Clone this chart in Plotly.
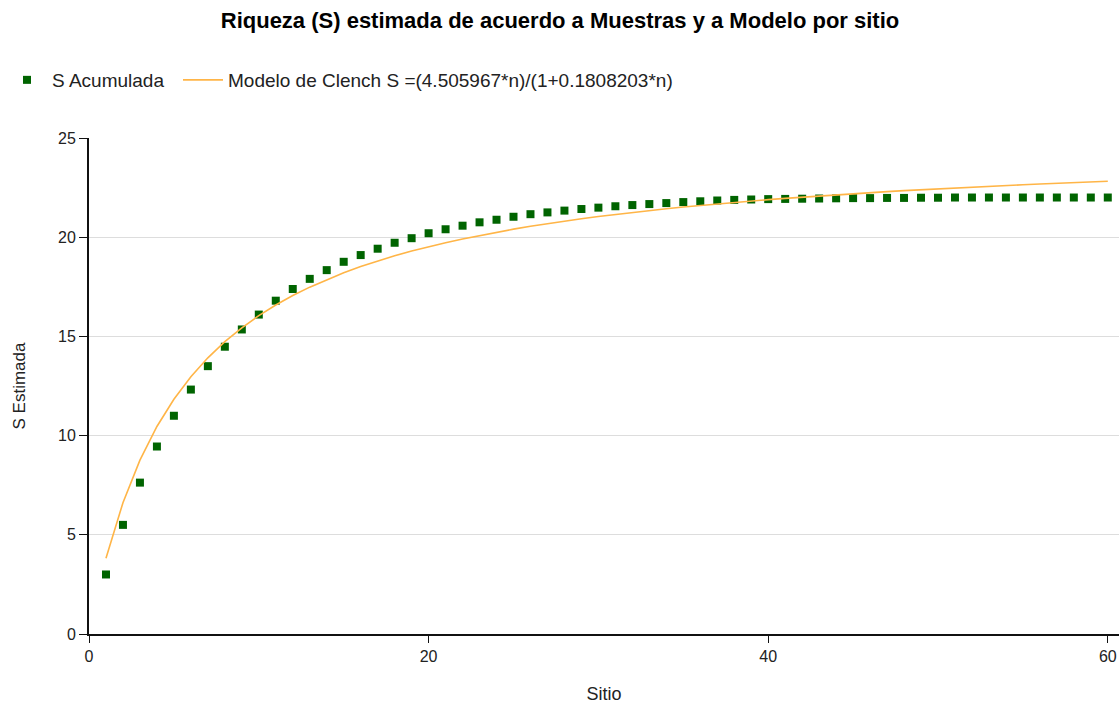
import plotly.graph_objects as go

# Observed cumulative richness per site
sitio = list(range(1, 61))
s_acumulada = [
    3.00, 5.50, 7.63, 9.45, 11.00, 12.32, 13.50, 14.48, 15.35, 16.10,
    16.80, 17.39, 17.90, 18.34, 18.76, 19.10, 19.42, 19.72, 19.95, 20.20,
    20.40, 20.58, 20.75, 20.88, 21.03, 21.16, 21.25, 21.34, 21.42, 21.49,
    21.56, 21.62, 21.67, 21.72, 21.77, 21.81, 21.85, 21.88, 21.90, 21.92,
    21.93, 21.94, 21.95, 21.96, 21.97, 21.97, 21.98, 21.98, 21.99, 21.99,
    22.00, 22.00, 22.00, 22.00, 22.00, 22.00, 22.00, 22.00, 22.00, 22.00,
]

# Clench model coefficients: S = a*n / (1 + b*n)
clench_a = 4.505967
clench_b = 0.1808203
s_modelo = [clench_a * n / (1 + clench_b * n) for n in sitio]

y_ticks = [0, 5, 10, 15, 20, 25]
x_ticks = [0, 20, 40, 60]

FONT = "Liberation Sans, Arial, sans-serif"

fig = go.Figure()
fig.add_trace(go.Scatter(
    x=sitio, y=s_acumulada, mode="markers", name="S Acumulada",
    marker=dict(symbol="square", size=8, color="#006400",
                line=dict(width=0)),
    legend="legend",
))
fig.add_trace(go.Scatter(
    x=sitio, y=s_modelo, mode="lines",
    name=f"Modelo de Clench S =({clench_a}*n)/(1+{clench_b}*n)",
    line=dict(color="#FFB547", width=1.6),
    legend="legend2",
))

legend_style = dict(
    orientation="h", xref="container", yref="container",
    xanchor="left", y=1 - 80 / 704, yanchor="middle",
    font=dict(size=19, color="#222222", family=FONT),
    itemwidth=40, bgcolor="rgba(0,0,0,0)",
)

fig.update_layout(
    width=1119, height=704,
    margin=dict(l=89, r=0, t=138, b=70),
    paper_bgcolor="white", plot_bgcolor="white",
    font=dict(family=FONT, color="#222222"),
    title=dict(
        text="<b>Riqueza (S) estimada de acuerdo a Muestras y a Modelo por sitio</b>",
        x=560 / 1119, xref="container", xanchor="center",
        y=1 - 20 / 704, yref="container", yanchor="middle",
        font=dict(size=22, color="#000000", family=FONT),
    ),
    legend=dict(x=2 / 1119, **legend_style),
    legend2=dict(x=178 / 1119, **legend_style),
    showlegend=True,
)

fig.update_xaxes(
    range=[0, 60.66], tickvals=x_ticks, ticktext=[str(v) for v in x_ticks],
    showgrid=False, zeroline=False,
    showline=True, linecolor="#111111", linewidth=2,
    ticks="outside", ticklen=7, tickcolor="#111111", tickwidth=1,
    tickfont=dict(size=16, color="#222222"),
    title=dict(text="Sitio", font=dict(size=18, color="#222222"), standoff=24),
)
fig.update_yaxes(
    range=[0, 25], tickvals=y_ticks, ticktext=[str(v) for v in y_ticks],
    showgrid=True, gridcolor="#dddddd", gridwidth=1, zeroline=False,
    showline=True, linecolor="#111111", linewidth=2,
    ticks="outside", ticklen=8, tickcolor="#111111", tickwidth=1,
    tickfont=dict(size=16, color="#222222"),
    title=dict(text="S Estimada", font=dict(size=17, color="#222222"), standoff=28),
)

fig.write_html("out.html")
